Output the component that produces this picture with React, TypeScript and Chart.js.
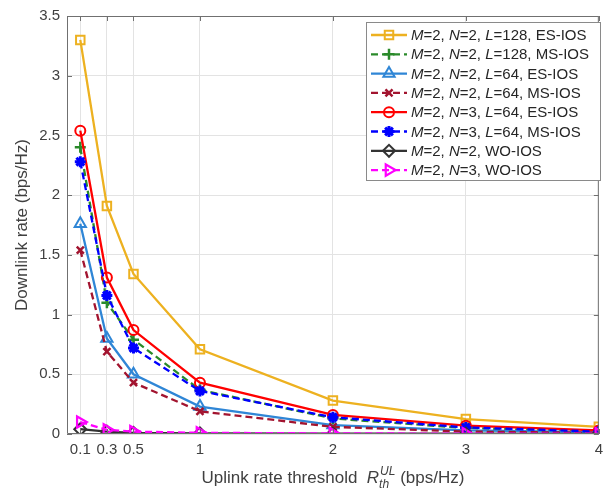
import React, { useEffect, useRef } from "react";
import { Chart, registerables } from "chart.js";
import { drawPoint } from "chart.js/helpers";

Chart.register(...registerables);

const X_VALUES = [0.1, 0.3, 0.5, 1, 2, 3, 4];
const X_TICKS = [0.1, 0.3, 0.5, 1, 2, 3, 4];
const Y_TICKS = [0, 0.5, 1, 1.5, 2, 2.5, 3, 3.5];

const N2_L128_ES = [3.3, 1.91, 1.34, 0.71, 0.28, 0.125, 0.06];
const N2_L128_MS = [2.4, 1.1, 0.79, 0.37, 0.13, 0.05, 0.02];
const N2_L64_ES = [1.76, 0.8, 0.5, 0.23, 0.075, 0.03, 0.015];
const N2_L64_MS = [1.54, 0.69, 0.43, 0.19, 0.06, 0.02, 0.01];
const N3_L64_ES = [2.54, 1.31, 0.87, 0.43, 0.16, 0.07, 0.03];
const N3_L64_MS = [2.28, 1.16, 0.72, 0.36, 0.14, 0.055, 0.02];
const N2_WO = [0.04, 0.02, 0.01, 0.005, 0.003, 0.002, 0.001];
const N3_WO = [0.1, 0.035, 0.02, 0.01, 0.005, 0.003, 0.002];

type Series = {
  parts: [string, boolean][];
  data: number[];
  color: string;
  dash: number[];
  style: string;
  radius: number;
  rotation: number;
  pw: number;
};

const it = (s: string): [string, boolean] => [s, true];
const rm = (s: string): [string, boolean] => [s, false];

const SERIES: Series[] = [
  { parts: [it("M"), rm("=2, "), it("N"), rm("=2, "), it("L"), rm("=128, ES-IOS")], data: N2_L128_ES, color: "#EDB120", dash: [], style: "rect", radius: 6, rotation: 0, pw: 2 },
  { parts: [it("M"), rm("=2, "), it("N"), rm("=2, "), it("L"), rm("=128, MS-IOS")], data: N2_L128_MS, color: "#2A8A2A", dash: [7, 4], style: "cross", radius: 5.5, rotation: 0, pw: 2.5 },
  { parts: [it("M"), rm("=2, "), it("N"), rm("=2, "), it("L"), rm("=64, ES-IOS")], data: N2_L64_ES, color: "#2F86D6", dash: [], style: "triangle", radius: 6.5, rotation: 0, pw: 2 },
  { parts: [it("M"), rm("=2, "), it("N"), rm("=2, "), it("L"), rm("=64, MS-IOS")], data: N2_L64_MS, color: "#A2142F", dash: [7, 4], style: "crossRot", radius: 5, rotation: 0, pw: 2.5 },
  { parts: [it("M"), rm("=2, "), it("N"), rm("=3, "), it("L"), rm("=64, ES-IOS")], data: N3_L64_ES, color: "#FF0000", dash: [], style: "circle", radius: 5, rotation: 0, pw: 2 },
  { parts: [it("M"), rm("=2, "), it("N"), rm("=3, "), it("L"), rm("=64, MS-IOS")], data: N3_L64_MS, color: "#0000FF", dash: [7, 4], style: "star", radius: 5.5, rotation: 0, pw: 3 },
  { parts: [it("M"), rm("=2, "), it("N"), rm("=2, WO-IOS")], data: N2_WO, color: "#333333", dash: [], style: "rectRot", radius: 6, rotation: 0, pw: 2 },
  { parts: [it("M"), rm("=2, "), it("N"), rm("=3, WO-IOS")], data: N3_WO, color: "#FF00FF", dash: [7, 4], style: "triangle", radius: 6.5, rotation: 90, pw: 2.2 },
];

const FONT = '"Liberation Sans", Arial, sans-serif';
const TEXT_COLOR = "#404040";
const AXIS_COLOR = "#707070";
const LINE_W = 2.3;

const framePlugin = {
  id: "matlabFrame",
  afterDraw(chart: any) {
    const ctx: CanvasRenderingContext2D = chart.ctx;
    const { left, right, top, bottom } = chart.chartArea;
    const xs = chart.scales.x;
    const ys = chart.scales.y;
    ctx.save();
    ctx.strokeStyle = AXIS_COLOR;
    ctx.lineWidth = 1;
    ctx.setLineDash([]);
    ctx.beginPath();
    ctx.rect(left + 0.5, top + 0.5, right - left - 1, bottom - top - 1);
    ctx.stroke();
    const tl = 5;
    ctx.beginPath();
    for (const v of X_TICKS) {
      const px = Math.round(xs.getPixelForValue(v)) + 0.5;
      ctx.moveTo(px, bottom);
      ctx.lineTo(px, bottom - tl);
      ctx.moveTo(px, top);
      ctx.lineTo(px, top + tl);
    }
    for (const v of Y_TICKS) {
      const py = Math.round(ys.getPixelForValue(v)) + 0.5;
      ctx.moveTo(left, py);
      ctx.lineTo(left + tl, py);
      ctx.moveTo(right, py);
      ctx.lineTo(right - tl, py);
    }
    ctx.stroke();

    ctx.fillStyle = TEXT_COLOR;
    ctx.font = `17px ${FONT}`;
    ctx.textAlign = "center";
    ctx.textBaseline = "middle";
    ctx.save();
    ctx.translate(22, (top + bottom) / 2);
    ctx.rotate(-Math.PI / 2);
    ctx.fillText("Downlink rate (bps/Hz)", 0, 0);
    ctx.restore();

    const big = `17px ${FONT}`;
    const bigI = `italic 17px ${FONT}`;
    const small = `italic 12px ${FONT}`;
    const p1 = "Uplink rate threshold  ";
    const p3 = " (bps/Hz)";
    ctx.font = big;
    const w1 = ctx.measureText(p1).width;
    const w3 = ctx.measureText(p3).width;
    ctx.font = bigI;
    const wR = ctx.measureText("R").width;
    ctx.font = small;
    const wSub = ctx.measureText("th").width;
    const wSup = ctx.measureText("UL").width;
    const wS = Math.max(wSub, wSup) + 1;
    const total = w1 + wR + wS + w3;
    let x = (left + right) / 2 - total / 2;
    const base = 483;
    ctx.textAlign = "left";
    ctx.textBaseline = "alphabetic";
    ctx.font = big;
    ctx.fillText(p1, x, base);
    x += w1;
    ctx.font = bigI;
    ctx.fillText("R", x, base);
    x += wR;
    ctx.font = small;
    ctx.fillText("th", x, base + 5);
    ctx.fillText("UL", x + 1, base - 8);
    x += wS;
    ctx.font = big;
    ctx.fillText(p3, x, base);

    const lx0 = 366, ly0 = 22, lx1 = 601, ly1 = 181;
    ctx.fillStyle = "#ffffff";
    ctx.fillRect(lx0, ly0, lx1 - lx0, ly1 - ly0);
    ctx.strokeStyle = "#8a8a8a";
    ctx.lineWidth = 1;
    ctx.strokeRect(lx0 + 0.5, ly0 + 0.5, lx1 - lx0 - 1, ly1 - ly0 - 1);
    const rowH = 19.3;
    SERIES.forEach((s, i) => {
      const cy = 35 + i * rowH;
      ctx.save();
      ctx.strokeStyle = s.color;
      ctx.lineWidth = LINE_W;
      ctx.setLineDash(s.dash);
      ctx.beginPath();
      ctx.moveTo(371, cy);
      ctx.lineTo(407, cy);
      ctx.stroke();
      ctx.setLineDash([]);
      ctx.fillStyle = "rgba(0,0,0,0)";
      ctx.lineWidth = s.pw;
      drawPoint(ctx, { pointStyle: s.style, rotation: s.rotation, radius: s.radius, borderWidth: s.pw } as any, 389, cy);
      ctx.restore();
      let tx = 411;
      ctx.fillStyle = "#262626";
      ctx.textBaseline = "middle";
      for (const [t, ital] of s.parts) {
        ctx.font = `${ital ? "italic " : ""}15px ${FONT}`;
        ctx.fillText(t, tx, cy + 1);
        tx += ctx.measureText(t).width;
      }
    });
    ctx.restore();
  },
};

export default function App() {
  const ref = useRef<HTMLCanvasElement | null>(null);
  useEffect(() => {
    if (!ref.current) return;
    const chart = new Chart(ref.current, {
      type: "line",
      data: {
        datasets: SERIES.map((s, i) => ({
          label: s.parts.map((p) => p[0]).join(""),
          data: s.data.map((v, j) => ({ x: X_VALUES[j], y: v })),
          borderColor: s.color,
          backgroundColor: "rgba(0,0,0,0)",
          borderWidth: LINE_W,
          borderDash: s.dash,
          pointStyle: s.style as any,
          pointRadius: s.radius,
          pointRotation: s.rotation,
          pointBorderWidth: s.pw,
          pointBorderColor: s.color,
          pointBackgroundColor: "rgba(0,0,0,0)",
          fill: false,
          tension: 0,
          order: SERIES.length - i,
        })),
      },
      options: {
        responsive: false,
        animation: false,
        devicePixelRatio: 1,
        layout: { padding: { left: 0, right: 6, top: 15, bottom: 0 } },
        plugins: { legend: { display: false }, tooltip: { enabled: false } },
        scales: {
          x: {
            type: "linear",
            min: 0,
            max: 4,
            afterBuildTicks: (scale: any) => {
              scale.ticks = X_TICKS.map((v) => ({ value: v }));
            },
            afterFit: (scale: any) => {
              scale.height = 58;
            },
            grid: { color: "#e3e3e3", lineWidth: 1, drawTicks: false },
            border: { display: false },
            ticks: {
              autoSkip: false,
              maxRotation: 0,
              minRotation: 0,
              padding: 7,
              color: TEXT_COLOR,
              font: { family: FONT, size: 15 },
              callback: (v: any) => String(v),
            },
          },
          y: {
            type: "linear",
            min: 0,
            max: 3.5,
            afterBuildTicks: (scale: any) => {
              scale.ticks = Y_TICKS.map((v) => ({ value: v }));
            },
            afterFit: (scale: any) => {
              scale.width = 67;
            },
            grid: { color: "#e3e3e3", lineWidth: 1, drawTicks: false },
            border: { display: false },
            ticks: {
              padding: 7,
              color: TEXT_COLOR,
              font: { family: FONT, size: 15 },
              callback: (v: any) => String(v),
            },
          },
        },
      },
      plugins: [framePlugin],
    });
    return () => chart.destroy();
  }, []);
  return (
    <div style={{ position: "fixed", left: 0, top: 0, width: 610, height: 492, background: "#fff" }}>
      <canvas ref={ref} width={610} height={492} style={{ width: 610, height: 492 }} />
    </div>
  );
}
